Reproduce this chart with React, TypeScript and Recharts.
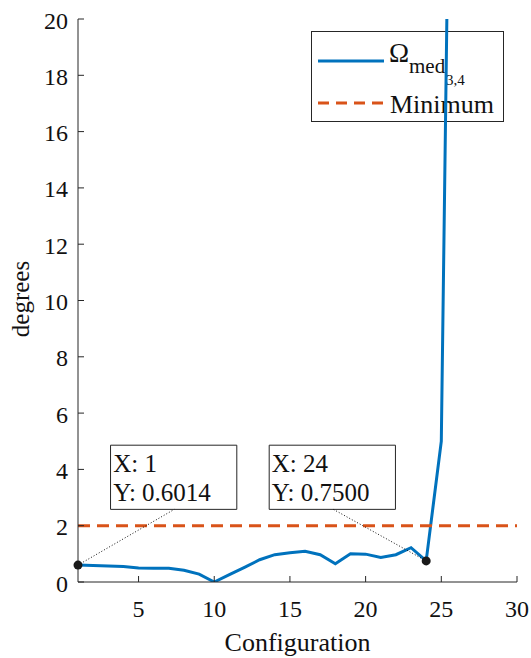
import React from 'react';
import {
  LineChart,
  Line,
  XAxis,
  YAxis,
  ReferenceLine,
  ReferenceDot,
  ReferenceArea,
  Customized,
} from 'recharts';

const configurations = [1, 2, 3, 4, 5, 6, 7, 8, 9, 10, 11, 12, 13, 14, 15, 16, 17, 18, 19, 20, 21, 22, 23, 24, 25, 26];
const omegaMed = [0.6014, 0.59, 0.57, 0.55, 0.5, 0.49, 0.49, 0.42, 0.28, 0.0, 0.26, 0.52, 0.79, 0.97, 1.04, 1.09, 0.97, 0.65, 1.0, 0.99, 0.87, 0.97, 1.22, 0.75, 5.0, 46];
const minimumLevel = 2;
const xTicks = [5, 10, 15, 20, 25, 30];
const yTicks = [0, 2, 4, 6, 8, 10, 12, 14, 16, 18, 20];
const xDomain = [1, 30];
const yDomain = [0, 20];

const tipPoints = [
  { x: 1, y: 0.6014, lines: ['X: 1', 'Y: 0.6014'] },
  { x: 24, y: 0.75, lines: ['X: 24', 'Y: 0.7500'] },
];
// datatip box placement (data coordinates): [x1, x2, y1, y2, anchorX, anchorY]
const tipBoxes = [
  [3.15, 11.49, 2.58, 4.86, 7.36, 2.58],
  [13.63, 21.97, 2.58, 4.86, 17.87, 2.58],
];

const data = configurations.map((c, i) => ({ config: c, omega: omegaMed[i] }));

const FONT = "'Liberation Serif', 'Times New Roman', serif";
const TS = { fontFamily: FONT };
const AX = '#262626';
const BLUE = '#0072BD';
const RED = '#D95319';

const BottomTick = (props: any) => {
  const { x, y, payload } = props;
  return (
    <g>
      <line x1={x} y1={y} x2={x} y2={y - 6} stroke={AX} strokeWidth={1} />
      <text x={x} y={y + 35} textAnchor="middle" fontSize={24} style={TS} fill="#111">
        {payload.value}
      </text>
    </g>
  );
};
const TopTick = (props: any) => {
  const { x, y } = props;
  return <line x1={x} y1={y} x2={x} y2={y + 6} stroke={AX} strokeWidth={1} />;
};
const LeftTick = (props: any) => {
  const { x, y, payload } = props;
  return (
    <g>
      <line x1={x} y1={y} x2={x + 6} y2={y} stroke={AX} strokeWidth={1} />
      <text x={x - 10} y={y + 9.5} textAnchor="end" fontSize={24} style={TS} fill="#111">
        {payload.value}
      </text>
    </g>
  );
};
const RightTick = (props: any) => {
  const { x, y } = props;
  return <line x1={x} y1={y} x2={x - 6} y2={y} stroke={AX} strokeWidth={1} />;
};

const AxisTitles = () => (
  <g style={TS} fill="#111">
    <text x={297.5} y={651} textAnchor="middle" fontSize={26} style={TS}>
      Configuration
    </text>
    <text transform="translate(29,299) rotate(-90)" textAnchor="middle" fontSize={25} style={TS}>
      degrees
    </text>
  </g>
);

const LegendBox = () => (
  <g transform="translate(311,31)">
    <rect x={0.5} y={0.5} width={192} height={90} fill="#fff" stroke={AX} strokeWidth={1} />
    <line x1={7} y1={30} x2={73} y2={30} stroke={BLUE} strokeWidth={3} />
    <text x={78} y={30.5} style={TS} fontSize={27} fill="#111">Ω</text>
    <text x={98} y={41.5} style={TS} fontSize={21} fill="#111">med</text>
    <text x={135} y={54} style={TS} fontSize={15} fill="#111">3,4</text>
    <line x1={7} y1={72} x2={73} y2={72} stroke={RED} strokeWidth={3} strokeDasharray="11 7" />
    <text x={79} y={81.5} style={TS} fontSize={26} fill="#111">Minimum</text>
  </g>
);

const makeTipLabel = (lines: string[]) => (props: any) => {
  const vb = props.viewBox || {};
  const x = vb.x ?? 0;
  const y = vb.y ?? 0;
  return (
    <g style={TS} fontSize={25} fill="#111">
      <text x={x + 2.6} y={y + 26.7} style={TS}>{lines[0]}</text>
      <text x={x + 2.6} y={y + 56} style={TS}>{lines[1]}</text>
    </g>
  );
};

export default function App() {
  return (
    <div style={{ position: 'absolute', left: 0, top: 0, background: '#fff' }}>
      <LineChart
        width={531}
        height={658}
        data={data}
        margin={{ top: 19, right: 14, bottom: 26, left: 18 }}
      >
        <XAxis
          dataKey="config"
          type="number"
          domain={xDomain}
          ticks={xTicks}
          allowDataOverflow
          height={50}
          tickSize={0}
          tickMargin={0}
          tickLine={false}
          axisLine={{ stroke: AX, strokeWidth: 1 }}
          tick={<BottomTick />}
          interval={0}
        />
        <XAxis
          xAxisId="top"
          orientation="top"
          dataKey="config"
          type="number"
          domain={xDomain}
          ticks={xTicks}
          allowDataOverflow
          height={0}
          tickSize={0}
          tickMargin={0}
          tickLine={false}
          axisLine={{ stroke: AX, strokeWidth: 1 }}
          tick={<TopTick />}
          interval={0}
        />
        <YAxis
          type="number"
          domain={yDomain}
          ticks={yTicks}
          allowDataOverflow
          width={60}
          tickSize={0}
          tickMargin={0}
          tickLine={false}
          axisLine={{ stroke: AX, strokeWidth: 1 }}
          tick={<LeftTick />}
          interval={0}
        />
        <YAxis
          yAxisId="right"
          orientation="right"
          type="number"
          domain={yDomain}
          ticks={yTicks}
          allowDataOverflow
          width={0}
          tickSize={0}
          tickMargin={0}
          tickLine={false}
          axisLine={{ stroke: AX, strokeWidth: 1 }}
          tick={<RightTick />}
          interval={0}
        />
        <Line
          dataKey="omega"
          stroke={BLUE}
          strokeWidth={3}
          dot={false}
          activeDot={false}
          isAnimationActive={false}
          name="Ω med 3,4"
        />
        <ReferenceLine y={minimumLevel} stroke={RED} strokeWidth={3} strokeDasharray="12 7" />
        {tipPoints.map((t, i) => (
          <ReferenceLine
            key={'c' + i}
            segment={[
              { x: t.x, y: t.y },
              { x: tipBoxes[i][4], y: tipBoxes[i][5] },
            ]}
            stroke="#111"
            strokeWidth={1}
            strokeDasharray="1 2"
          />
        ))}
        {tipPoints.map((t, i) => (
          <ReferenceArea
            key={'b' + i}
            x1={tipBoxes[i][0]}
            x2={tipBoxes[i][1]}
            y1={tipBoxes[i][2]}
            y2={tipBoxes[i][3]}
            fill="#fff"
            fillOpacity={1}
            stroke={AX}
            strokeWidth={1}
            label={makeTipLabel(t.lines)}
          />
        ))}
        {tipPoints.map((t, i) => (
          <ReferenceDot key={'d' + i} x={t.x} y={t.y} r={4.5} fill="#1a1a1a" stroke="none" />
        ))}
        <Customized component={AxisTitles} />
        <Customized component={LegendBox} />
      </LineChart>
    </div>
  );
}
